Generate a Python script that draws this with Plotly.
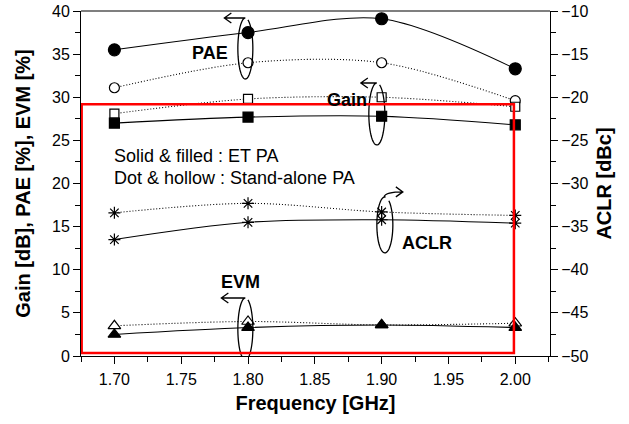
import math
import plotly.graph_objects as go

# ---------------- data ----------------
freq = [1.70, 1.80, 1.90, 2.00]
pae_et = [35.5, 37.5, 39.1, 33.3]
pae_sa = [31.1, 34.0, 34.0, 29.6]
gain_et = [27.0, 27.7, 27.8, 26.8]
gain_sa = [28.1, 29.8, 30.0, 28.9]
aclr_et = [-36.5, -34.5, -34.2, -34.6]
aclr_sa = [-33.4, -32.3, -33.3, -33.7]
evm_et = [2.5, 3.3, 3.6, 3.3]
evm_sa = [3.5, 4.0, 3.6, 3.8]

FONT = "Arial, Liberation Sans, sans-serif"

fig = go.Figure()


def add(y, symbol, size, filled, dotted, yaxis="y"):
    fig.add_trace(go.Scatter(
        x=freq, y=y, yaxis=yaxis, mode="lines+markers",
        line=dict(color="black", width=1.1, dash="1px,2px" if dotted else "solid",
                  shape="spline", smoothing=0.9),
        marker=dict(symbol=symbol, size=size,
                    color="black" if filled else "white",
                    line=dict(color="black", width=1.2)),
        showlegend=False, cliponaxis=False, hoverinfo="skip"))


add(pae_sa, "circle", 10, False, True)
add(pae_et, "circle", 12, True, False)
add(gain_sa, "square", 9, False, True)
add(gain_et, "square", 10, True, False)
add(evm_sa, "triangle-up", 11, False, True)
add(evm_et, "triangle-up", 11, True, False)
add(aclr_sa, "asterisk-open", 10, True, True, "y2")
add(aclr_et, "asterisk-open", 10, True, False, "y2")


# ------------- rotating-arrow decorations (pixel paths) -------------
def rot_path(rx, ry, t0, t1, a_start, a_end, a_ctrl, direction):
    pts = []
    n = 60
    for i in range(n + 1):
        t = math.radians(t0 + (t1 - t0) * i / n)
        pts.append((rx * math.cos(t), ry * math.sin(t)))
    p = "M %.2f,%.2f " % pts[0] + " ".join("L %.2f,%.2f" % q for q in pts[1:])
    sx, sy = a_start
    ex, ey = a_end
    cx, cy = a_ctrl
    p += " M %.2f,%.2f Q %.2f,%.2f %.2f,%.2f" % (sx, sy, cx, cy, ex, ey)
    d = 7 if direction == "left" else -7
    p += " M %.2f,%.2f L %.2f,%.2f L %.2f,%.2f" % (ex + d, ey + 5, ex, ey, ex + d, ey - 5)
    return p


def rot_shape(xa, ya, yref, path):
    fig.add_shape(type="path", xref="x", yref=yref, xsizemode="pixel",
                  ysizemode="pixel", xanchor=xa, yanchor=ya, path=path,
                  line=dict(color="black", width=1.3), layer="above")


# PAE
rot_shape(1.798, 35.65, "y", rot_path(7.5, 30.5, 95, 430, (0, 30.5), (-21, 30.5), (-10, 30.5), "left"))
# Gain
rot_shape(1.8964, 28.06, "y", rot_path(8, 31, 95, 430, (0, 31), (-16, 31), (-8, 31), "left"))
# ACLR
rot_shape(1.9024, -34.8, "y2", rot_path(8, 28, 85, 420, (-1, 28), (18, 33), (1, 33), "right"))
# EVM
rot_shape(1.798, 3.13, "y", rot_path(7.5, 31, 95, 430, (0, 31), (-24, 31), (-12, 31), "left"))

# red rectangle
fig.add_shape(type="rect", xref="x", yref="y", x0=1.6755, x1=1.999, y0=0.35, y1=29.2,
              line=dict(color="#ff0000", width=2.5), layer="above")
# top frame line
fig.add_shape(type="line", xref="paper", yref="paper", x0=0, x1=1, y0=1, y1=1,
              line=dict(color="#555555", width=1.5))

# text annotations
def label(x, y, text, bold=True, size=18, xanchor="center"):
    fig.add_annotation(x=x, y=y, xref="x", yref="y", text=text, showarrow=False,
                       xanchor=xanchor,
                       font=dict(family=FONT, size=size, color="black",
                                 weight="bold" if bold else "normal"))


label(1.7715, 35.1, "PAE")
label(1.874, 29.7, "Gain")
label(1.934, 13.1, "ACLR")
label(1.7947, 8.58, "EVM")
label(1.6982, 23.2, "Solid &amp; filled : ET PA", bold=False, xanchor="left")
label(1.6982, 20.6, "Dot &amp; hollow : Stand-alone PA", bold=False, xanchor="left")

axis_common = dict(showgrid=False, zeroline=False, showline=True, linecolor="black",
                   linewidth=1, ticks="outside", ticklen=7, tickwidth=1, tickcolor="black",
                   automargin=False,
                   tickfont=dict(family=FONT, size=16, color="black"))
minor_common = dict(ticklen=5, ticks="outside", tickcolor="black", tickwidth=1)

fig.update_layout(
    width=629, height=424,
    margin=dict(l=81, r=79, t=11, b=68),
    paper_bgcolor="white", plot_bgcolor="white",
    xaxis=dict(range=[1.675, 2.026], dtick=0.05, tick0=1.7, tickformat=".2f",
               ticklabelstandoff=2,
               minor=dict(dtick=0.025, **minor_common),
               title=dict(text="Frequency [GHz]", standoff=8,
                          font=dict(family=FONT, size=20, color="black", weight="bold")),
               **axis_common),
    yaxis=dict(range=[0, 40], dtick=5,
               minor=dict(dtick=2.5, **minor_common),
               title=dict(text="Gain [dB], PAE [%], EVM [%]", standoff=16,
                          font=dict(family=FONT, size=20, color="black", weight="bold")),
               **axis_common),
    yaxis2=dict(range=[-50, -10], dtick=5, overlaying="y", side="right",
                minor=dict(dtick=2.5, **minor_common),
                title=dict(text="ACLR [dBc]", standoff=9,
                           font=dict(family=FONT, size=20, color="black", weight="bold")),
                **axis_common),
)

fig.write_html("out.html", config={"displayModeBar": False},
               post_script="document.body.style.margin='0';document.body.style.overflow='hidden';")
